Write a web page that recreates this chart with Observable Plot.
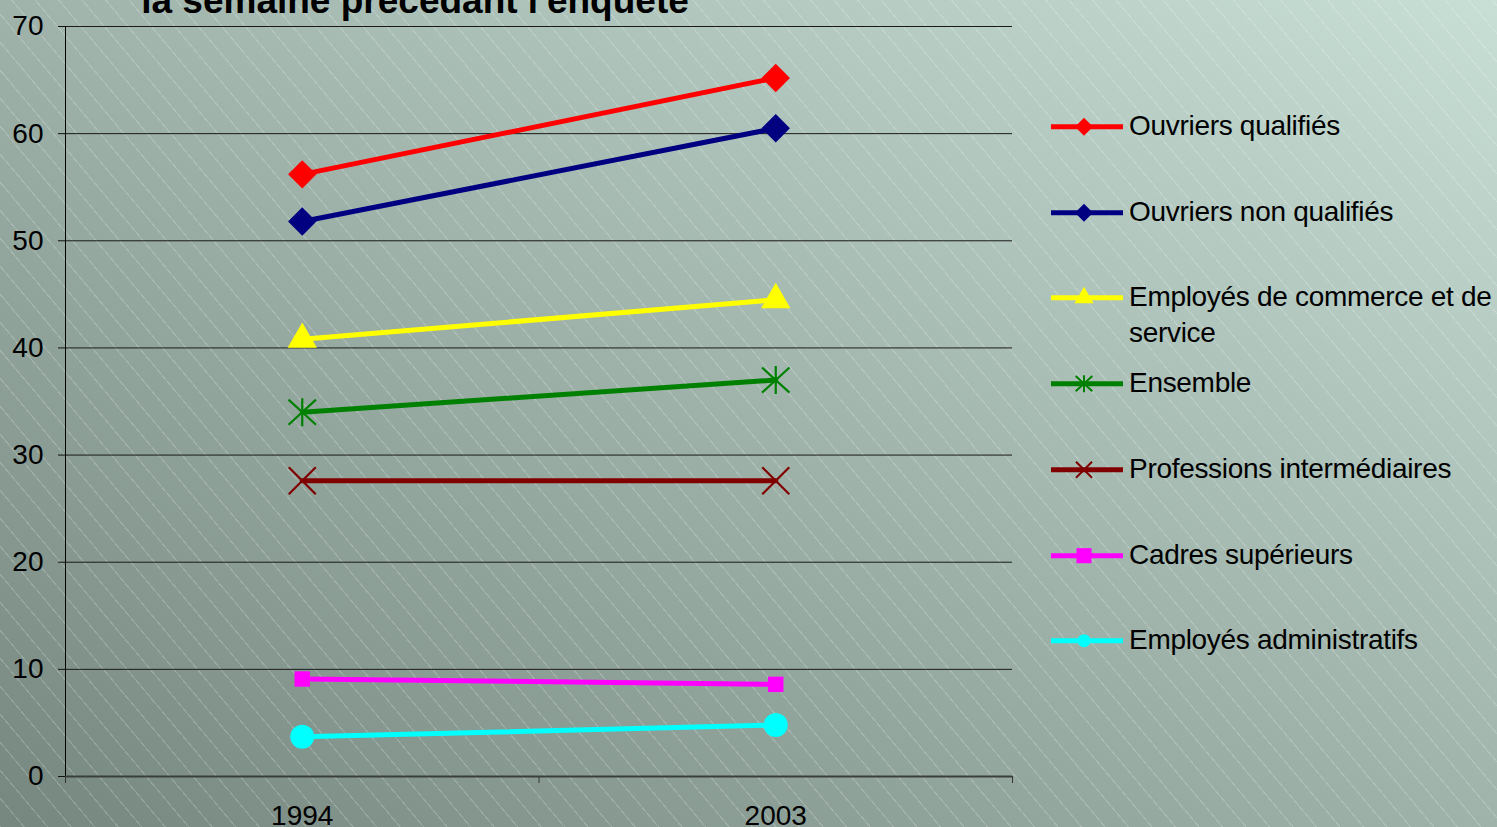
<!DOCTYPE html>
<html>
<head>
<meta charset="utf-8">
<script src="https://cdn.jsdelivr.net/npm/d3@7"></script>
<script src="https://cdn.jsdelivr.net/npm/@observablehq/plot@0.6"></script>
<style>
html, body { margin: 0; padding: 0; }
body { width: 1497px; height: 827px; overflow: hidden; }
#chart {
  position: relative; width: 1497px; height: 827px; overflow: hidden;
  background:
    repeating-linear-gradient(50deg, rgba(255,255,255,0.2) 0px, rgba(255,255,255,0.2) 1px, rgba(255,255,255,0) 1.2px, rgba(255,255,255,0) 18px),
    linear-gradient(to top right, #76877f, #c8dfd6);
  font-family: "Liberation Sans", Arial, sans-serif;
  color: #000;
}
#title {
  position: absolute; left: 0; width: 830px; text-align: center; top: -18px;
  font-size: 37px; font-weight: bold; line-height: 37px; white-space: nowrap;
}
#plot { position: absolute; left: 0; top: 0; }
.legend-row { position: absolute; left: 1051px; width: 450px; height: 36px; }
.legend-row svg { position: absolute; left: 0; top: 0; overflow: visible; }
.legend-label { position: absolute; left: 78px; top: 0; width: 372px; font-size: 28px; line-height: 36px; letter-spacing: -0.3px; }
</style>
</head>
<body>
<div id="chart">
  <div id="title">la semaine précédant l'enquête</div>
  <div id="plot"></div>
</div>
<script>
// ---- data ----
const years = ["1994", "2003"];
const seriesNames = [
  "Ouvriers qualifiés",
  "Ouvriers non qualifiés",
  "Employés de commerce et de service",
  "Ensemble",
  "Professions intermédiaires",
  "Cadres supérieurs",
  "Employés administratifs"
];
const ouvriersQualifies = [56.2, 65.2];
const ouvriersNonQualifies = [51.8, 60.5];
const employesCommerce = [40.8, 44.5];
const ensemble = [34.0, 37.0];
const professionsIntermediaires = [27.6, 27.6];
const cadresSuperieurs = [9.1, 8.6];
const employesAdministratifs = [3.7, 4.8];
const yTicks = [0, 10, 20, 30, 40, 50, 60, 70];

const seriesValues = [ouvriersQualifies, ouvriersNonQualifies, employesCommerce, ensemble,
  professionsIntermediaires, cadresSuperieurs, employesAdministratifs];

// ---- styles ----
const seriesColors = ["#ff0000", "#000080", "#ffff00", "#008000", "#800000", "#ff00ff", "#00ffff"];

const asteriskSym = { draw(ctx, size) {
  const r = Math.sqrt(size / Math.PI), dx = r * 0.98, dy = r * 0.9;
  ctx.moveTo(0, -r); ctx.lineTo(0, r);
  ctx.moveTo(-dx, -dy); ctx.lineTo(dx, dy);
  ctx.moveTo(-dx, dy); ctx.lineTo(dx, -dy);
}};
const timesSym = { draw(ctx, size) {
  const r = Math.sqrt(size / Math.PI);
  ctx.moveTo(-r, -r); ctx.lineTo(r, r);
  ctx.moveTo(-r, r); ctx.lineTo(r, -r);
}};
const seriesSymbols = [d3.symbolDiamond2, d3.symbolDiamond2, d3.symbolTriangle, asteriskSym, timesSym, d3.symbolSquare, d3.symbolCircle];
const strokeSymbol = [false, false, false, true, true, false, false];
const markerR = [12.8, 12.8, 10.9, 14, 13.5, 8.7, 12];
const legendR = [8.1, 8.1, 7.1, 8.5, 8, 8.5, 6.5];

const data = seriesNames.flatMap((name, s) =>
  years.map((yr, i) => ({ series: name, s, xi: i + 0.5, value: seriesValues[s][i] })));

const marks = [
  Plot.gridY(yTicks, { stroke: "#1a1a1a", strokeOpacity: 1, strokeWidth: 1 }),
  Plot.axisY(yTicks, { tickSize: 7, tickPadding: 15, stroke: "#111", label: null }),
  Plot.axisX([0, 1, 2], { tickSize: 7, tickFormat: () => "", stroke: "#333", label: null }),
  Plot.axisX(years.map((d, i) => i + 0.5), { tickSize: 0, tickPadding: 29, tickFormat: (d) => years[Math.floor(d)], label: null }),
  Plot.ruleX([0], { stroke: "#000", strokeWidth: 1 }),
  Plot.ruleY([0], { stroke: "#3a3f3d", strokeWidth: 2 })
];

seriesNames.forEach((name, s) => {
  const rows = data.filter(d => d.s === s);
  marks.push(Plot.line(rows, { x: "xi", y: "value", stroke: seriesColors[s], strokeWidth: 5 }));
  marks.push(Plot.dot(rows, {
    x: "xi", y: "value", r: markerR[s], symbol: seriesSymbols[s],
    fill: strokeSymbol[s] ? "none" : seriesColors[s],
    stroke: strokeSymbol[s] ? seriesColors[s] : "none",
    strokeWidth: strokeSymbol[s] ? 2.2 : 0
  }));
});

const plot = Plot.plot({
  width: 1497,
  height: 827,
  marginLeft: 65,
  marginRight: 485,
  marginTop: 26,
  marginBottom: 51,
  x: { type: "linear", domain: [0, 2], label: null },
  y: { domain: [0, 70], label: null },
  style: { background: "transparent", fontFamily: "'Liberation Sans', Arial, sans-serif", fontSize: "28px", color: "#000", overflow: "visible" },
  marks
});
document.getElementById("plot").appendChild(plot);

// ---- legend ----
const chart = d3.select("#chart");
seriesNames.forEach((name, s) => {
  const row = chart.append("div").attr("class", "legend-row").style("top", (108 + s * 85.7) + "px");
  const svg = row.append("svg").attr("width", 72).attr("height", 36);
  svg.append("line").attr("x1", 0).attr("x2", 72).attr("y1", 18.7).attr("y2", 18.7)
    .attr("stroke", seriesColors[s]).attr("stroke-width", 5);
  const r = legendR[s];
  svg.append("path").attr("transform", "translate(33,18.7)")
    .attr("d", d3.symbol(seriesSymbols[s], Math.PI * r * r)())
    .attr("fill", strokeSymbol[s] ? "none" : seriesColors[s])
    .attr("stroke", strokeSymbol[s] ? seriesColors[s] : "none")
    .attr("stroke-width", strokeSymbol[s] ? 2 : 0);
  row.append("div").attr("class", "legend-label").text(name);
});
</script>
</body>
</html>
